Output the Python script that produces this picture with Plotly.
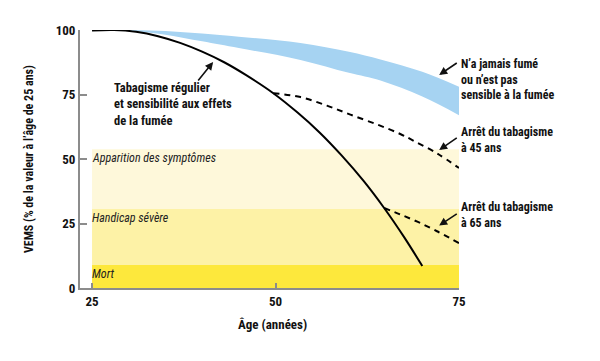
import plotly.graph_objects as go

# ---- data ----
smoker_age = [25, 28, 31, 34, 37, 40, 43, 46, 49.7, 53, 56, 59, 62, 64.8, 67.5, 70]
smoker_val = [99.8, 100, 99.3, 97.6, 95, 91.6, 87.5, 82.5, 75.5, 68, 60.3, 51.4, 41.5, 31, 19.8, 8.5]

quit45_age = [49.7, 53.4, 57, 60.2, 64, 67, 69, 72, 75]
quit45_val = [75.5, 74, 70.7, 67.2, 63.2, 59.7, 56.8, 52.2, 46.5]

quit65_age = [64.8, 67, 69.4, 72, 75]
quit65_val = [31, 28.5, 25.6, 22, 17.4]

never_age = [30, 35, 40, 45, 53.4, 60, 64.3, 70, 75]
never_top = [100, 99.6, 98.6, 97.4, 95, 91.6, 88.6, 83.8, 78]
never_bot = [99.8, 98.2, 95.6, 93, 88.4, 83.4, 80.4, 74.2, 67]

band_names = ["Apparition des symptômes", "Handicap sévère", "Mort"]
band_bottom = [30.6, 8.9, 0]
band_top = [53.8, 30.6, 8.9]
band_colors = ["#FEF8DA", "#FDF2A6", "#FDE83C"]
band_x = [25, 75]

x_ticks = [25, 50, 75]
y_ticks = [0, 25, 50, 75, 100]

FONT = "'Roboto Condensed', 'Liberation Sans Narrow', 'DejaVu Sans Condensed', sans-serif"

fig = go.Figure()

# background bands
for name, b0, b1, col in zip(band_names, band_bottom, band_top, band_colors):
    fig.add_shape(type="rect", xref="x", yref="y", x0=band_x[0], x1=band_x[1],
                  y0=b0, y1=b1, fillcolor=col, line_width=0, layer="below")
    fig.add_annotation(x=band_x[0], y=b1, xref="x", yref="y", text="<i>" + name + "</i>",
                       showarrow=False, xanchor="left", yanchor="top", xshift=-2,
                       font=dict(family=FONT, size=12, color="#222"))

# never smoked band
fig.add_trace(go.Scatter(x=never_age, y=never_top, mode="lines", line=dict(width=0, shape="spline"),
                         hoverinfo="skip", showlegend=False))
fig.add_trace(go.Scatter(x=never_age, y=never_bot, mode="lines", line=dict(width=0, shape="spline"),
                         fill="tonexty", fillcolor="#A6D3F2", hoverinfo="skip", showlegend=False))

# smoker curves
fig.add_trace(go.Scatter(x=smoker_age, y=smoker_val, mode="lines",
                         line=dict(color="black", width=2, shape="spline"), showlegend=False))
fig.add_trace(go.Scatter(x=quit45_age, y=quit45_val, mode="lines",
                         line=dict(color="black", width=2, dash="6px,5px", shape="spline"), showlegend=False))
fig.add_trace(go.Scatter(x=quit65_age, y=quit65_val, mode="lines",
                         line=dict(color="black", width=2, dash="6px,5px", shape="spline"), showlegend=False))

lab_font = dict(family=FONT, size=12, color="#111")

def arrow(x, y, ax, ay):
    fig.add_annotation(x=x, y=y, ax=ax, ay=ay, xref="x", yref="y", axref="x", ayref="y",
                       text="", showarrow=True, arrowhead=2, arrowsize=1, arrowwidth=1.6,
                       arrowcolor="#111")

fig.add_annotation(x=27.7, y=71.5, xref="x", yref="y", showarrow=False, xanchor="left", yanchor="middle",
                   align="left", text="<b>Tabagisme régulier<br>et sensibilité aux effets<br>de la fumée</b>",
                   font=dict(family=FONT, size=12.5, color="#111"))
arrow(41.5, 87.6, 39.3, 79.8)

RX = 1.0
fig.add_annotation(x=RX, y=81.0, xref="paper", yref="y", showarrow=False, xanchor="left", yanchor="middle",
                   align="left", text="<b>N’a jamais fumé<br>ou n’est pas<br>sensible à la fumée</b>", font=lab_font)
arrow(72.3, 82.6, 74.9, 87.6)

fig.add_annotation(x=RX, y=57.4, xref="paper", yref="y", showarrow=False, xanchor="left", yanchor="middle",
                   align="left", text="<b>Arrêt du tabagisme<br>à 45 ans</b>", font=lab_font)
arrow(72.3, 53.5, 74.9, 58.6)

fig.add_annotation(x=RX, y=28.3, xref="paper", yref="y", showarrow=False, xanchor="left", yanchor="middle",
                   align="left", text="<b>Arrêt du tabagisme<br>à 65 ans</b>", font=lab_font)
arrow(72.3, 24.2, 74.9, 29.1)

# axis titles
fig.add_annotation(x=-0.158, y=0.5, xref="paper", yref="paper", showarrow=False, textangle=-90,
                   text="<b>VEMS (% de la valeur à l’âge de 25 ans)</b>",
                   font=dict(family=FONT, size=12, color="#111"))
fig.add_annotation(x=0.509, y=-0.178, xref="paper", yref="paper", showarrow=False,
                   text="<b>Âge (années)</b>", font=dict(family=FONT, size=13, color="#111"))

axis_common = dict(showline=True, linecolor="#8C8C8C", linewidth=2, ticks="inside",
                   tickcolor="#8C8C8C", tickwidth=2, showgrid=False, zeroline=False,
                   tickfont=dict(family=FONT, size=13, color="#111"))
fig.update_xaxes(range=[23.36, 75], tickvals=x_ticks, ticktext=[f"<b>{v}</b>" for v in x_ticks],
                 ticklen=5, **axis_common)
fig.update_yaxes(range=[0, 100], tickvals=y_ticks, ticktext=[f"<b>{v}</b>" for v in y_ticks],
                 ticklen=7, **axis_common)

# page body has an 8px margin: shrink the figure to compensate
fig.update_layout(width=584, height=345, margin=dict(l=72, r=133, t=22, b=65),
                  plot_bgcolor="white", paper_bgcolor="white", showlegend=False)

fig.write_html("out.html")
